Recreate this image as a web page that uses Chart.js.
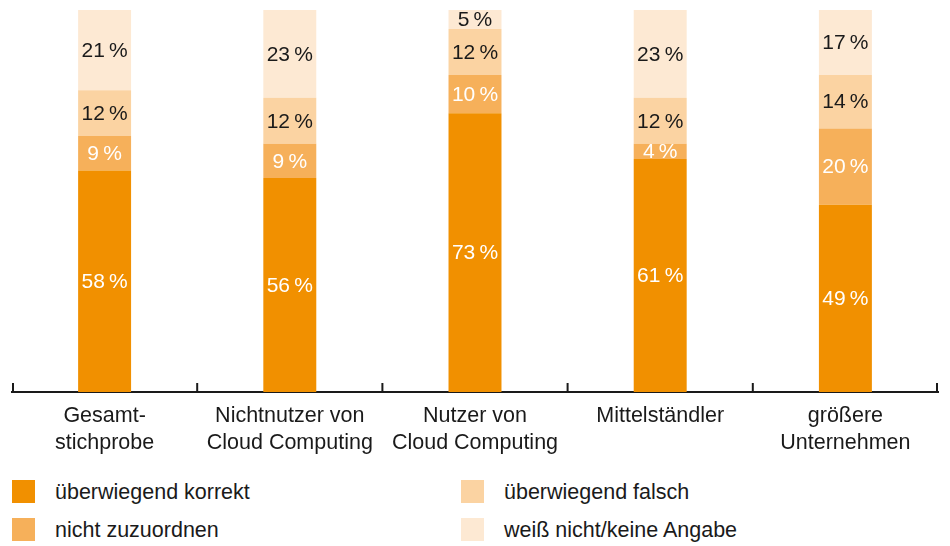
<!DOCTYPE html>
<html>
<head>
<meta charset="utf-8">
<script src="https://cdn.jsdelivr.net/npm/chart.js@4"></script>
<style>
  body { margin: 0; background: #fff; font-family: "Liberation Sans", Arial, sans-serif; }
  #wrap { position: relative; width: 950px; height: 546px; }
  #box { position: absolute; left: 0; top: 0; width: 950px; height: 468px; }
  .leg { position: absolute; font-size: 21.5px; color: #1a1a1a; line-height: 23px; }
  .leg span { position: absolute; left: 0; top: 0; width: 23px; height: 23px; }
  .leg b { font-weight: normal; position: absolute; left: 43px; top: 1px; white-space: nowrap; }
</style>
</head>
<body>
<div id="wrap">
  <div id="box"><canvas id="grafico"></canvas></div>
  <div id="legenda"></div>
</div>
<script>
// daten
var kategorien = [['Gesamt-', 'stichprobe'], ['Nichtnutzer von', 'Cloud Computing'], ['Nutzer von', 'Cloud Computing'], 'Mittelständler', ['größere', 'Unternehmen']];
var korrekt = [58, 56, 73, 61, 49];
var zuzuordnen = [9, 9, 10, 4, 20];
var falsch = [12, 12, 12, 12, 14];
var keineAngabe = [21, 23, 5, 23, 17];

var serien = ['überwiegend korrekt', 'nicht zuzuordnen', 'überwiegend falsch', 'weiß nicht/keine Angabe'];
var farben = ['#F19000', '#F6B05A', '#FBD3A2', '#FDE9D3'];
var textFarben = ['#ffffff', '#ffffff', '#1a1a1a', '#1a1a1a'];

// wertelabels in den balken
var wertePlugin = {
  id: 'werte',
  afterDatasetsDraw: function(chart) {
    var ctx = chart.ctx;
    ctx.save();
    ctx.font = '21px "Liberation Sans", Arial, sans-serif';
    ctx.textAlign = 'center';
    ctx.textBaseline = 'middle';
    chart.data.datasets.forEach(function(ds, i) {
      var meta = chart.getDatasetMeta(i);
      meta.data.forEach(function(bar, j) {
        ctx.fillStyle = textFarben[i];
        ctx.fillText(ds.data[j] + '\u2009%', bar.x, (bar.y + bar.base) / 2 + 1);
      });
    });
    ctx.restore();
  }
};

// kleine striche zwischen den kategorien
var strichPlugin = {
  id: 'striche',
  afterDraw: function(chart) {
    var x = chart.scales.x;
    var ctx = chart.ctx;
    var unten = chart.chartArea.bottom;
    ctx.save();
    ctx.strokeStyle = '#1a1a1a';
    ctx.lineWidth = 2;
    for (var i = 0; i <= kategorien.length; i++) {
      var px;
      if (i == 0) px = x.left + 1;
      else if (i == kategorien.length) px = x.right - 1;
      else px = (x.getPixelForValue(i - 1) + x.getPixelForValue(i)) / 2;
      ctx.beginPath();
      ctx.moveTo(px, unten - 9);
      ctx.lineTo(px, unten + 1);
      ctx.stroke();
    }
    ctx.restore();
  }
};

var datensaetze = [korrekt, zuzuordnen, falsch, keineAngabe].map(function(werte, i) {
  return {
    label: serien[i],
    data: werte,
    backgroundColor: farben[i],
    borderWidth: 0,
    barPercentage: 0.286,
    categoryPercentage: 1
  };
});

const ctx = document.getElementById('grafico');
const grafico = new Chart(ctx, {
  type: 'bar',
  data: { labels: kategorien, datasets: datensaetze },
  options: {
    responsive: true,
    maintainAspectRatio: false,
    animation: false,
    layout: { padding: { top: 10, left: 12, right: 12, bottom: 0 } },
    plugins: { legend: { display: false }, tooltip: { enabled: false } },
    scales: {
      x: {
        stacked: true,
        grid: { display: false, drawTicks: false },
        border: { display: true, color: '#1a1a1a', width: 2 },
        ticks: {
          color: '#1a1a1a',
          padding: 11,
          maxRotation: 0,
          autoSkip: false,
          font: { family: '"Liberation Sans", Arial, sans-serif', size: 21.5, lineHeight: '27px' }
        }
      },
      y: { stacked: true, display: false, min: 0, max: 100 }
    }
  },
  plugins: [wertePlugin, strichPlugin]
});

// legende
var pos = [[12, 480], [12, 518], [461, 480], [461, 518]];
var leg = document.getElementById('legenda');
serien.forEach(function(name, i) {
  var d = document.createElement('div');
  d.className = 'leg';
  d.style.left = pos[i][0] + 'px';
  d.style.top = pos[i][1] + 'px';
  d.innerHTML = '<span style="background:' + farben[i] + '"></span><b>' + name + '</b>';
  leg.appendChild(d);
});
</script>
</body>
</html>
